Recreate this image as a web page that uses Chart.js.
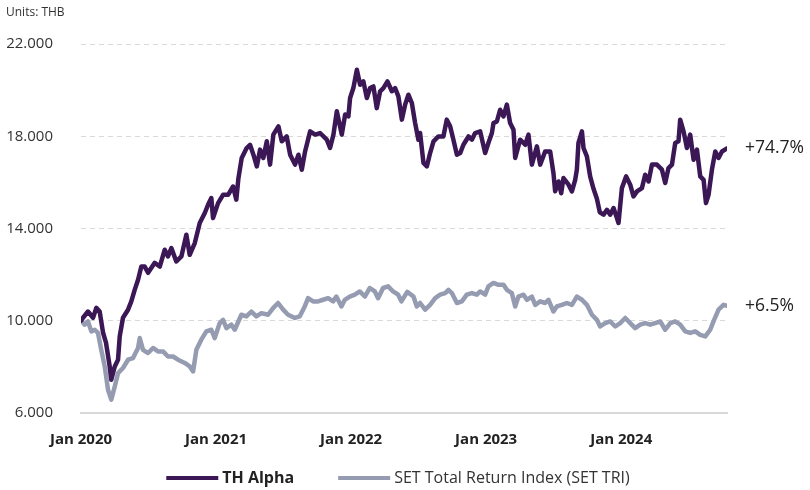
<!DOCTYPE html>
<html><head><meta charset="utf-8">
<script src="https://cdn.jsdelivr.net/npm/chart.js@4"></script>
<style>html,body{margin:0;padding:0;background:#fff}#wrap{width:810px;height:490px;position:relative}</style>
</head><body><div id="wrap"><canvas id="c" width="810" height="490"></canvas></div>
<script>
// Time axis in months since Jan 2020
const yearTicks = [0, 12, 24, 36, 48];
const yearLabels = ["Jan 2020", "Jan 2021", "Jan 2022", "Jan 2023", "Jan 2024"];
const yTicks = [6000, 10000, 14000, 18000, 22000];
const seriesNames = ["TH Alpha", "SET Total Return Index (SET TRI)"];
const unitsLabel = "Units: THB";

const alphaMonths = [0,0.18,0.62,1.07,1.36,1.66,1.96,2.22,2.55,2.69,
3.0,3.29,3.44,3.73,4.18,4.47,4.77,5.07,5.36,5.66,
5.96,6.55,7.0,7.44,7.73,8.03,8.47,8.92,9.36,9.66,
10.11,10.55,11.0,11.29,11.58,11.73,12.18,12.62,13.07,13.51,
13.8,13.98,14.28,14.72,15.02,15.32,15.62,15.91,16.2,16.51,
16.8,17.09,17.54,17.84,18.28,18.58,19.02,19.32,19.62,19.91,
20.36,20.8,21.24,21.84,22.13,22.43,22.73,23.17,23.47,23.76,
23.91,24.2,24.51,24.8,25.09,25.4,25.69,25.98,26.28,26.58,
26.87,27.23,27.62,27.91,28.2,28.51,28.8,29.09,29.4,29.69,
29.98,30.13,30.43,30.73,31.02,31.32,31.76,32.2,32.5,32.8,
33.09,33.4,33.69,33.98,34.43,34.73,35.02,35.47,35.91,36.2,
36.51,36.65,36.95,37.24,37.54,37.84,38.13,38.43,38.58,39.02,
39.47,39.76,40.06,40.51,40.8,41.24,41.69,41.98,42.13,42.43,
42.67,42.87,43.32,43.62,43.91,44.06,44.2,44.51,44.65,44.95,
45.24,45.54,45.84,46.1,46.43,46.73,47.02,47.32,47.62,47.76,
48.06,48.44,48.8,49.09,49.4,49.84,50.13,50.43,50.73,51.17,
51.62,51.91,52.2,52.51,52.8,53.09,53.24,53.54,53.84,54.13,
54.43,54.73,55.02,55.32,55.53,55.76,56.06,56.36,56.65,56.95,
57.4];
const alphaValues = [10000,10130,10400,10130,10560,10400,9480,9050,8020,7440,
8020,8310,9320,10130,10480,10840,11340,11780,12350,12350,
12080,12510,12350,13080,12790,13150,12570,12790,13730,12860,
13370,14240,14670,15030,15320,14450,15100,15460,15460,15820,
15250,16150,17060,17490,17630,17200,16690,17420,17060,17780,
16770,18070,18430,17780,17990,17200,16770,17200,16550,17340,
18210,18070,18140,17850,17490,18070,19080,18070,18940,18860,
19660,20090,20880,20230,20380,19660,20090,20160,19220,19950,
20090,20380,19950,20090,19730,18720,19370,19800,19440,18570,
17850,18140,16840,16690,17270,17780,17990,17990,18720,18430,
17850,17200,17270,17630,17990,17850,18140,18210,17270,17710,
18140,18570,18640,19150,18860,19370,18570,18280,17060,17850,
17630,18070,16770,17560,16770,17340,17340,16400,15610,16040,
15530,16190,15900,15610,16110,16550,17710,18210,17490,17130,
16260,15720,15290,14700,14600,14810,14600,14890,14450,14240,
15750,16260,15900,15390,15610,15750,16330,16040,16770,16770,
16550,15970,16620,16770,17710,17780,18720,18210,17490,18070,
16980,17420,16260,16110,15100,15460,16550,17340,17060,17340,
17470];

const setMonths = [0,0.33,0.62,0.92,1.22,1.51,1.8,2.11,2.4,2.69,
3.0,3.29,3.73,4.18,4.62,5.07,5.22,5.51,5.96,6.4,
6.84,7.29,7.73,8.18,8.62,9.22,9.66,9.96,10.25,10.69,
11.14,11.58,11.88,12.33,12.62,12.92,13.36,13.66,14.25,14.69,
15.14,15.58,16.03,16.62,17.07,17.51,17.96,18.4,19.0,19.44,
19.88,20.18,20.62,21.07,21.51,21.96,22.4,22.69,23.14,23.44,
23.88,24.33,24.77,25.22,25.66,26.11,26.4,26.84,27.29,27.73,
28.18,28.47,28.99,29.54,29.84,30.13,30.58,31.02,31.47,31.91,
32.36,32.65,32.95,33.4,33.84,34.28,34.73,35.17,35.47,35.91,
36.2,36.65,37.09,37.54,37.84,38.28,38.58,38.87,39.32,39.62,
40.06,40.36,40.8,41.24,41.54,41.98,42.28,42.73,43.17,43.62,
44.06,44.51,44.95,45.4,45.84,46.13,46.58,47.02,47.47,47.91,
48.36,48.8,49.24,49.69,50.13,50.58,51.02,51.47,51.91,52.36,
52.8,53.24,53.69,54.13,54.58,55.02,55.47,55.91,56.2,56.65,
57.09,57.4];
const setValues = [10000,9830,9970,9540,9610,9470,8740,8020,7010,6580,
7150,7730,7950,8310,8380,8820,9250,8740,8600,8820,
8670,8670,8450,8450,8310,8170,8020,7800,8740,9180,
9540,9610,9250,9900,10040,9680,9830,9610,10260,10190,
10400,10190,10330,10260,10550,10770,10480,10260,10120,10190,
10620,10980,10840,10840,10910,10980,10840,11050,10620,10910,
11050,11130,11270,11050,11420,11270,10980,11420,11490,11270,
11130,10840,11250,11050,10620,10770,10480,10690,10980,11130,
11200,11340,11200,10770,10840,11130,11200,11130,11270,11130,
11490,11640,11560,11560,11340,11200,10620,11050,11130,10910,
11050,10690,10840,10770,10910,10400,10620,10690,10770,10690,
11050,10910,10690,10260,10040,9750,9900,9970,9750,9900,
10120,9900,9680,9830,9900,9830,9900,9970,9610,9900,
9970,9830,9540,9470,9540,9390,9320,9610,9970,10480,
10690,10650];

const FONT = "'Open Sans', 'Noto Sans', sans-serif";
const colors = ["#3b1756", "#959bb0"];

function pts(ms, vs){ const n = Math.min(ms.length, vs.length); const out=[]; for(let i=0;i<n;i++) out.push({x:ms[i], y:vs[i]}); return out; }
function fmtThousands(v){ return String(Math.round(v)).replace(/\B(?=(\d{3})+(?!\d))/g, "."); }

const overlay = {
  id: 'overlay',
  afterDraw(chart){
    const c = chart.ctx, area = chart.chartArea, ys = chart.scales.y;
    c.save();
    // units
    c.fillStyle = '#333'; c.font = "12px " + FONT; c.textBaseline = 'middle'; c.textAlign = 'left';
    c.fillText(unitsLabel, 6, 13);
    // end labels
    c.font = "17.5px " + FONT; c.fillStyle = '#222';
    chart.data.datasets.forEach(ds => {
      const first = ds.data[0].y, last = ds.data[ds.data.length-1].y;
      const pct = (last/first - 1) * 100;
      const txt = (pct >= 0 ? "+" : "") + pct.toFixed(1) + "%";
      c.fillText(txt, area.right + 18, ys.getPixelForValue(last));
    });
    // legend
    const fonts = ["bold 16px " + FONT, "16px " + FONT];
    const sample = 52, gapText = 4, gapItem = 44;
    let widths = chart.data.datasets.map((ds,i)=>{ c.font = fonts[i]; return sample + gapText + c.measureText(ds.label).width; });
    const total = widths.reduce((a,b)=>a+b,0) + gapItem*(widths.length-1);
    let x = 398 - total/2; const y = 478;
    chart.data.datasets.forEach((ds,i)=>{
      c.strokeStyle = ds.borderColor; c.lineWidth = 4; c.lineCap = 'butt';
      c.beginPath(); c.moveTo(x, y); c.lineTo(x+sample, y); c.stroke();
      c.font = fonts[i]; c.fillStyle = i===0 ? '#222' : '#333'; c.textAlign='left'; c.textBaseline='middle';
      c.fillText(ds.label, x + sample + gapText, y);
      x += widths[i] + gapItem;
    });
    c.restore();
  }
};

new Chart(document.getElementById('c'), {
  type: 'line',
  data: {
    datasets: [
      { label: seriesNames[0], data: pts(alphaMonths, alphaValues), borderColor: colors[0], backgroundColor: colors[0],
        borderWidth: 4.5, pointRadius: 0, tension: 0, borderJoinStyle: 'round', borderCapStyle: 'round', fill: false },
      { label: seriesNames[1], data: pts(setMonths, setValues), borderColor: colors[1], backgroundColor: colors[1],
        borderWidth: 4.5, pointRadius: 0, tension: 0, borderJoinStyle: 'round', borderCapStyle: 'round', fill: false }
    ]
  },
  options: {
    responsive: false, animation: false,
    layout: { padding: { left: 0, right: 83, top: 44, bottom: 0 } },
    plugins: { legend: { display: false }, tooltip: { enabled: false } },
    scales: {
      x: {
        type: 'linear', min: 0, max: 57.4,
        afterBuildTicks: s => { s.ticks = yearTicks.map(v => ({ value: v })); },
        afterFit: s => { s.height = 77; },
        ticks: { autoSkip: false, maxRotation: 0, padding: 18, color: '#222',
          font: { family: FONT, size: 15, weight: 'bold' },
          callback: v => { const i = yearTicks.indexOf(v); return i >= 0 ? yearLabels[i] : ''; } },
        grid: { display: false, drawTicks: false },
        border: { display: true, color: '#d9d9d9', width: 2 }
      },
      y: {
        min: 6000, max: 22000,
        afterBuildTicks: s => { s.ticks = yTicks.map(v => ({ value: v })); },
        afterFit: s => { s.width = 81; },
        ticks: { padding: 28, color: '#333', font: { family: FONT, size: 15 }, callback: v => fmtThousands(v) },
        grid: { color: '#d9d9d9', lineWidth: 1, drawTicks: false },
        border: { display: false, dash: [5, 4] }
      }
    }
  },
  plugins: [overlay]
});
</script>
</body></html>
